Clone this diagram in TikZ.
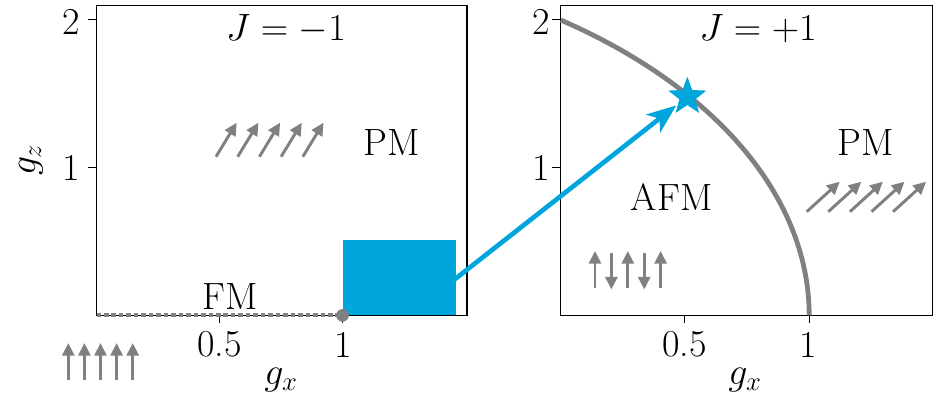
\RequirePackage{fix-cm}
\documentclass[tikz,border=0pt]{standalone}
\usetikzlibrary{arrows.meta,shapes.geometric}
\definecolor{pblue}{RGB}{0,165,220}
\definecolor{pgrey}{RGB}{128,128,128}
\begin{document}
\begin{tikzpicture}[x=0.75pt,y=-0.75pt,
  lbl/.style={font=\fontsize{28.5}{34}\selectfont, inner sep=0pt},
  spin/.style={draw=pgrey, line width=2.2pt, -{Triangle[length=9.5pt,width=9pt]}},
  frame/.style={draw=black, line width=0.8pt},
  tickmark/.style={draw=black, line width=0.8pt},
  boundary/.style={draw=pgrey, line width=3.6pt},
  link/.style={draw=pblue, line width=3.5pt, -{Stealth[length=22pt,width=17pt,inset=6pt]}}]
\useasboundingbox (0,0) rectangle (945,403);

% ---------- left panel ----------
\begin{scope}[shift={(96.5,315.4)}, x=184.5pt, y=110.8pt]
  \node[fill=pblue, inner sep=0pt, minimum width=85.2pt, minimum height=56pt, anchor=south west] (blk) at (1,0) {};
  \draw[frame] (0,0) rectangle (1.506,2.1);
  \draw[tickmark] (0,1) -- ++(-6.5pt,0);
  \draw[tickmark] (0,2) -- ++(-6.5pt,0);
  \draw[tickmark] (0.5,0) -- ++(0,-6pt);
  \draw[tickmark] (1,0) -- ++(0,-6pt);
  \draw[pgrey, line width=3pt, dash pattern=on 3.4pt off 2.2pt] (0,0) -- (1,0);
  \node[circle, fill=pgrey, inner sep=0pt, minimum size=9.5pt] (dot) at (1,0) {};
\end{scope}

% ---------- right panel ----------
\begin{scope}[shift={(560.5,315.4)}, x=186.5pt, y=110.8pt]
  \draw[frame] (0,0) rectangle (1.495,2.1);
  \draw[tickmark] (0,1) -- ++(-6.5pt,0);
  \draw[tickmark] (0,2) -- ++(-6.5pt,0);
  \draw[tickmark] (0.5,0) -- ++(0,-6pt);
  \draw[tickmark] (1,0) -- ++(0,-6pt);
  \draw[boundary] plot[domain=0:1, samples=60, smooth] ({1-\x*\x}, {2*\x*sqrt(1.27-0.27*\x*\x)});
  \node[star, star points=5, star point ratio=2.4, fill=pblue, inner sep=0pt, minimum size=30pt] (st) at (0.51,1.48) {};
\end{scope}

\draw[link, shorten <=-3pt, shorten >=10.5pt] (blk.east) -- (st.center);

% ---------- labels ----------
\node[lbl] (ly2) at (71.7,22) {2};
\node[lbl] (ly1) at (71.7,168) {1};
\node[lbl, rotate=90] (lgz) at (31,160) {$g_z$};
\node[lbl] (lx05) at (219.5,344.5) {0.5};
\node[lbl] (lx1) at (343,344.5) {1};
\node[lbl] (lgx) at (281,380) {$g_x$};
\node[lbl] (lJ) at (286,29) {$J=-1$};
\node[lbl] (lPM) at (392,143) {PM};
\node[lbl] (lFM) at (230,296.5) {FM};

\node[lbl] (ry2) at (541,22) {2};
\node[lbl] (ry1) at (541,168) {1};
\node[lbl] (rx05) at (684.3,344.5) {0.5};
\node[lbl] (rx1) at (808.7,344.5) {1};
\node[lbl] (rgx) at (745,380) {$g_x$};
\node[lbl] (rJ) at (758,29) {$J=+1$};
\node[lbl] (rAFM) at (671.7,196.7) {AFM};
\node[lbl] (rPM) at (866,143) {PM};

% ---------- spin arrows ----------
\foreach \i in {0,...,4} \draw[spin] (216+21.7*\i,156.7) -- ++(20.7,-34);
\foreach \i in {0,...,4} \draw[spin] (68.3+16.1*\i,380) -- ++(0,-37);
\foreach \i in {0,...,4} \draw[spin] (806.7+21.6*\i,211.7) -- ++(33,-30);
\foreach \i in {0,2,4} \draw[spin] (595+16.4*\i,288) -- ++(0,-37);
\foreach \i in {1,3} \draw[spin] (595+16.4*\i,252.5) -- ++(0,37);
\end{tikzpicture}
\end{document}
